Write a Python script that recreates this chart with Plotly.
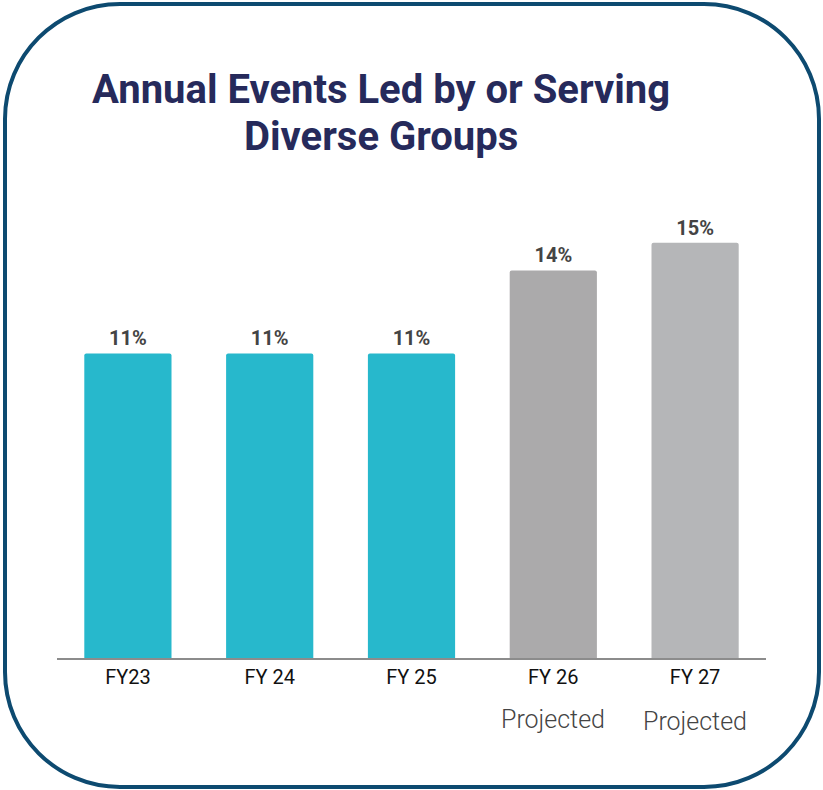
import plotly.graph_objects as go

categories = ['FY23', 'FY 24', 'FY 25', 'FY 26', 'FY 27']
values = [11, 11, 11, 14, 15]
bar_colors = ['#27b8cc', '#27b8cc', '#27b8cc', '#abaaab', '#b5b6b8']
projected = ['FY 26', 'FY 27']
title_lines = ['Annual Events Led by or Serving', 'Diverse Groups']

W, H = 823, 790
L, R, T, B = 57, 57, 215, 132
pw, ph = W - L - R, H - T - B


def px_to_paper(x, y):
    return (x - L) / pw, (H - B - y) / ph


def rounded_box(x0, y0, x1, y1, r):
    k = 0.5523 * r
    pts = [
        ('M', [(x0 + r, y0)]),
        ('L', [(x1 - r, y0)]),
        ('C', [(x1 - r + k, y0), (x1, y0 + r - k), (x1, y0 + r)]),
        ('L', [(x1, y1 - r)]),
        ('C', [(x1, y1 - r + k), (x1 - r + k, y1), (x1 - r, y1)]),
        ('L', [(x0 + r, y1)]),
        ('C', [(x0 + r - k, y1), (x0, y1 - r + k), (x0, y1 - r)]),
        ('L', [(x0, y0 + r)]),
        ('C', [(x0, y0 + r - k), (x0 + r - k, y0), (x0 + r, y0)]),
    ]
    path = ''
    for cmd, coords in pts:
        path += cmd + ' '.join('%.5f,%.5f' % px_to_paper(x, y) for x, y in coords) + ' '
    return path + 'Z'


fig = go.Figure()

fig.add_trace(go.Bar(
    x=categories,
    y=values,
    marker=dict(color=bar_colors, cornerradius=2, line=dict(width=0)),
    texttemplate='%{y}%',
    textposition='outside',
    textfont=dict(family='Roboto', size=20, color='#444444', weight='bold'),
    cliponaxis=False,
    hoverinfo='skip',
))

# "Projected" under the last two ticks
for i, cat in enumerate(projected):
    fig.add_annotation(
        x=cat, xref='x', y=px_to_paper(0, 719)[1], yref='paper', yanchor='middle',
        yshift=-2 * i,
        text='Projected', showarrow=False,
        font=dict(family='Roboto Light, Roboto', size=25, color='#444444', weight=300),
    )

# title as two lines (tighter line spacing than plotly's title)
for i, line in enumerate(title_lines):
    fig.add_annotation(
        x=px_to_paper(381, 0)[0], xref='paper', xanchor='center',
        y=px_to_paper(0, 89 + 47 * i)[1], yref='paper', yanchor='middle',
        text=line, showarrow=False,
        font=dict(family='Roboto', size=40, color='#262a5b', weight='bold'),
    )

fig.add_shape(
    type='path', xref='paper', yref='paper',
    path=rounded_box(5, 4, 819, 787, 115),
    line=dict(color='#0d4a70', width=4),
)

fig.update_layout(
    width=W, height=H,
    margin=dict(l=L, r=R, t=T, b=B),
    paper_bgcolor='white',
    plot_bgcolor='white',
    showlegend=False,
    bargap=0.385,
    xaxis=dict(
        showline=True, linecolor='#8c8c8c', linewidth=2,
        showgrid=False, ticks='',
        tickfont=dict(family='Roboto', size=20, color='#111111'),
    ),
    yaxis=dict(visible=False, range=[0, 16]),
)

fig.write_html('out.html', config={'displayModeBar': False},
               post_script="document.body.style.margin='0';")
